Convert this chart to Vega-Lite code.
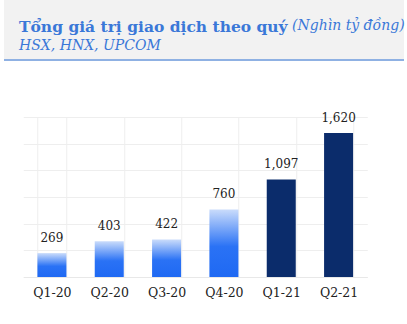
{
  "$schema": "https://vega.github.io/schema/vega-lite/v6.json",
  "background": "white",
  "padding": {"left": 3, "top": 0, "right": 3, "bottom": 0},
  "spacing": 50,
  "center": true,
  "config": {"view": {"stroke": null}, "font": "DejaVu Serif"},
  "title": {
    "text": "(Nghìn tỷ đồng)",
    "anchor": "start",
    "orient": "top",
    "offset": -44,
    "dx": 289,
    "baseline": "alphabetic",
    "fontStyle": "italic",
    "fontWeight": "normal",
    "fontSize": 14,
    "color": "#3a78d8",
    "font": "DejaVu Serif"
  },
  "vconcat": [
    {
      "width": 400,
      "height": 60,
      "view": {"fill": "#f2f2f2", "stroke": null},
      "title": {
        "text": "Tổng giá trị giao dịch theo quý",
        "subtitle": "HSX, HNX, UPCOM",
        "anchor": "start",
        "orient": "top",
        "offset": -53,
        "dx": 16,
        "font": "DejaVu Serif",
        "fontSize": 15.5,
        "fontWeight": "bold",
        "color": "#3a78d8",
        "subtitleFont": "DejaVu Serif",
        "subtitleFontSize": 14,
        "subtitleFontStyle": "italic",
        "subtitleColor": "#3a78d8",
        "subtitlePadding": 4
      },
      "data": {"values": [{}]},
      "mark": {"type": "rule", "color": "#8fb1e3", "strokeWidth": 2},
      "encoding": {"y": {"value": "height"}}
    },
    {
      "width": 344,
      "height": 160,
      "data": {
        "values": [
          {"quarter": "Q1-20", "value": 269, "year": "2020"},
          {"quarter": "Q2-20", "value": 403, "year": "2020"},
          {"quarter": "Q3-20", "value": 422, "year": "2020"},
          {"quarter": "Q4-20", "value": 760, "year": "2020"},
          {"quarter": "Q1-21", "value": 1097, "year": "2021"},
          {"quarter": "Q2-21", "value": 1620, "year": "2021"}
        ]
      },
      "encoding": {
        "x": {
          "field": "quarter",
          "type": "nominal",
          "sort": null,
          "scale": {"paddingInner": 0.494, "paddingOuter": 0.247},
          "axis": {
            "title": null,
            "labelAngle": 0,
            "ticks": false,
            "domain": true,
            "domainColor": "#e8e8e8",
            "grid": true,
            "gridColor": "#eeeeee",
            "tickBand": "extent",
            "labelFont": "DejaVu Serif",
            "labelFontSize": 12.5,
            "labelColor": "#222222",
            "labelPadding": 9
          }
        },
        "y": {
          "field": "value",
          "type": "quantitative",
          "scale": {"domain": [0, 1800], "nice": false},
          "axis": {
            "orient": "right",
            "title": null,
            "labels": false,
            "domain": false,
            "ticks": true,
            "tickSize": 18,
            "tickColor": "transparent",
            "grid": true,
            "gridColor": "#eeeeee",
            "values": [0, 300, 600, 900, 1200, 1500, 1800]
          }
        }
      },
      "layer": [
        {
          "mark": {"type": "bar"},
          "encoding": {
            "fill": {
              "condition": {"test": "datum.year == '2021'", "value": "#0b2c6b"},
              "value": {
                "gradient": "linear",
                "x1": 0, "y1": 0, "x2": 0, "y2": 1,
                "stops": [
                  {"offset": 0, "color": "#cadcfb"},
                  {"offset": 0.55, "color": "#2a72f5"},
                  {"offset": 1, "color": "#1f69f3"}
                ]
              }
            }
          }
        },
        {
          "mark": {"type": "text", "baseline": "alphabetic", "dy": -11, "fontSize": 12, "color": "#222222", "font": "DejaVu Serif"},
          "encoding": {"text": {"field": "value", "type": "quantitative", "format": ",d"}}
        }
      ]
    }
  ]
}
